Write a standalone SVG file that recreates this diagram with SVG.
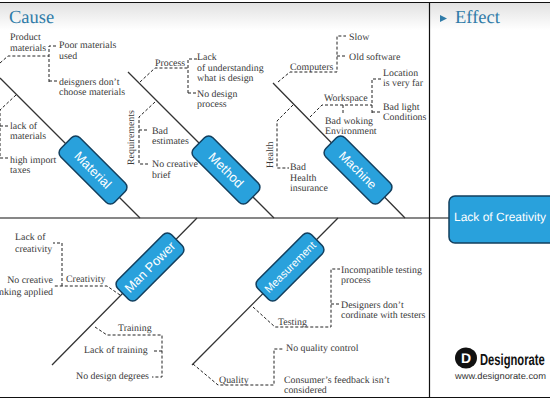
<svg xmlns="http://www.w3.org/2000/svg" width="550" height="400" viewBox="0 0 550 400">
<defs>
<linearGradient id="hd" x1="0" y1="0" x2="0" y2="1"><stop offset="0" stop-color="#e2e2e2"/><stop offset="1" stop-color="#ffffff"/></linearGradient>
</defs>
<style>
text{text-rendering:geometricPrecision}
.t{font-family:"Liberation Serif","Times New Roman",serif;font-size:9.9px;fill:#3a3a3a}
.h{font-family:"Liberation Serif","Times New Roman",serif;font-size:18.5px;fill:#2f7ba8}
.b{fill:#29a1dc;stroke:#123f5e;stroke-width:1.5}
.l{font-family:"Liberation Sans",Arial,sans-serif;font-size:13px;fill:#fff;text-anchor:middle}
.s{stroke:#333;stroke-width:1.3;fill:none}
.d{stroke:#222;stroke-width:1;stroke-dasharray:3 2;fill:none}
.f{stroke:#111;stroke-width:1.2;fill:none}
.e{text-anchor:end}
</style>
<rect width="550" height="400" fill="#fff"/>
<rect x="0" y="3" width="550" height="27" fill="url(#hd)"/>
<g id="frame">
<path class="f" d="M0 2.500H550M0 218H449M0 397.500H550M429.500 2V397"/>
</g>
<g id="headers">
<text class="h" x="9" y="23">Cause</text>
<path d="M440 15L447 18.500L440 22Z" fill="#2f7ba8"/>
<text class="h" x="455" y="23">Effect</text>
</g>
<g id="connectors">
<path class="s" d="M0 78L140 218M128 72L274 218M273 83L405 218M52 365L197 218M192 365L338 218"/>
<path class="d" d="M0 63L8 56H49M49 82V46H58M49 81H58"/>
<path class="d" d="M16 95L0 110V158H8M0 126H8"/>
<path class="d" d="M140 82L155 68H188M188 93V59H197M188 93H197"/>
<path class="d" d="M155 102L139 117V164H148M139 130H148"/>
<path class="d" d="M278 82L290 72H337V36H346M337 56H346"/>
<path class="d" d="M310 117L322 105H372M372 113V79H382M372 112H382M343 105V115"/>
<path class="d" d="M293 105L277 121V168H289"/>
<path class="d" d="M120 295L107 286H54M62 286V243H53"/>
<path class="d" d="M95 327L107 335H162V377H152M162 351H152"/>
<path class="d" d="M253 307L275 327H331V269H340M331 304H340"/>
<path class="d" d="M193 364L218 385H274V349H284"/>
</g>
<g id="material">
<g transform="translate(93 170) rotate(45)"><rect class="b" x="-38" y="-13.500" width="76" height="27" rx="6"/><text class="l" y="4.500">Material</text></g>
<text class="t" x="10" y="40">Product</text><text class="t" x="10" y="51">materials</text>
<text class="t" x="59" y="48">Poor materials</text><text class="t" x="59" y="59">used</text>
<text class="t" x="59" y="85">deisgners don’t</text><text class="t" x="59" y="95">choose materials</text>
<text class="t" x="10" y="129">lack of</text><text class="t" x="10" y="139">materials</text>
<text class="t" x="10" y="163">high import</text><text class="t" x="10" y="173">taxes</text>
</g>
<g id="method">
<g transform="translate(226 170) rotate(45)"><rect class="b" x="-38" y="-13.500" width="76" height="27" rx="6"/><text class="l" y="4.500">Method</text></g>
<text class="t" x="155" y="66">Process</text>
<text class="t" x="197" y="60">Lack</text><text class="t" x="197" y="71">of understanding</text><text class="t" x="197" y="81">what is design</text>
<text class="t" x="197" y="97">No design</text><text class="t" x="197" y="107">process</text>
<text class="t" transform="translate(134 165) rotate(-90)">Requirements</text>
<text class="t" x="152" y="134">Bad</text><text class="t" x="152" y="144">estimates</text>
<text class="t" x="152" y="167">No creative</text><text class="t" x="152" y="178">brief</text>
</g>
<g id="machine">
<g transform="translate(358 170) rotate(45)"><rect class="b" x="-38" y="-13.500" width="76" height="27" rx="6"/><text class="l" y="4.500" style="font-size:12.500px">Machine</text></g>
<text class="t" x="290" y="70">Computers</text>
<text class="t" x="349" y="40">Slow</text><text class="t" x="349" y="60">Old software</text>
<text class="t" x="324" y="101">Workspace</text>
<text class="t" x="325" y="124">Bad woking</text><text class="t" x="325" y="134">Environment</text>
<text class="t" x="383" y="76">Location</text><text class="t" x="383" y="86">is very far</text>
<text class="t" x="383" y="110">Bad light</text><text class="t" x="383" y="120">Conditions</text>
<text class="t" transform="translate(273 168) rotate(-90)">Health</text>
<text class="t" x="290" y="170">Bad</text><text class="t" x="290" y="181">Health</text><text class="t" x="290" y="191">insurance</text>
</g>
<g id="manpower">
<g transform="translate(150 267) rotate(-45)"><rect class="b" x="-38" y="-13.500" width="76" height="27" rx="6"/><text class="l" y="4.500">Man Power</text></g>
<text class="t" x="15" y="240">Lack of</text><text class="t" x="15" y="252">creativity</text>
<text class="t e" x="53" y="283">No creative</text><text class="t e" x="53" y="295">thinking applied</text>
<text class="t" x="66" y="282">Creativity</text>
<text class="t" x="118" y="331">Training</text>
<text class="t" x="84" y="353">Lack of training</text>
<text class="t" x="76" y="379">No design degrees</text>
</g>
<g id="measurement">
<g transform="translate(290 267) rotate(-45)"><rect class="b" x="-38" y="-13.500" width="76" height="27" rx="6"/><text class="l" y="4" style="font-size:11px">Measurement</text></g>
<text class="t" x="341" y="273">Incompatible testing</text><text class="t" x="341" y="283">process</text>
<text class="t" x="341" y="308">Designers don’t</text><text class="t" x="341" y="318">cordinate with testers</text>
<text class="t" x="278" y="325">Testing</text>
<text class="t" x="286" y="351">No quality control</text>
<text class="t" x="219" y="383">Quality</text>
<text class="t" x="284" y="383">Consumer’s feedback isn’t</text><text class="t" x="284" y="393">considered</text>
</g>
<g id="effect">
<rect class="b" x="449" y="196" width="106" height="47" rx="6"/>
<text class="l" x="500" y="221" style="font-size:12px">Lack of Creativity</text>
</g>
<g id="logo">
<ellipse cx="466" cy="358" rx="11" ry="10.500" fill="#111"/>
<text x="466" y="363" text-anchor="middle" style="font-family:'Liberation Sans',sans-serif;font-weight:bold;font-size:14px;fill:#fff">D</text>
<text transform="translate(480 365) scale(.7 1)" style="font-family:'Liberation Sans',sans-serif;font-weight:bold;font-size:16px;fill:#111">Designorate</text>
<text x="455" y="379" textLength="91" lengthAdjust="spacingAndGlyphs" style="font-family:'Liberation Sans',sans-serif;font-size:9px;fill:#333">www.designorate.com</text>
</g>
</svg>
